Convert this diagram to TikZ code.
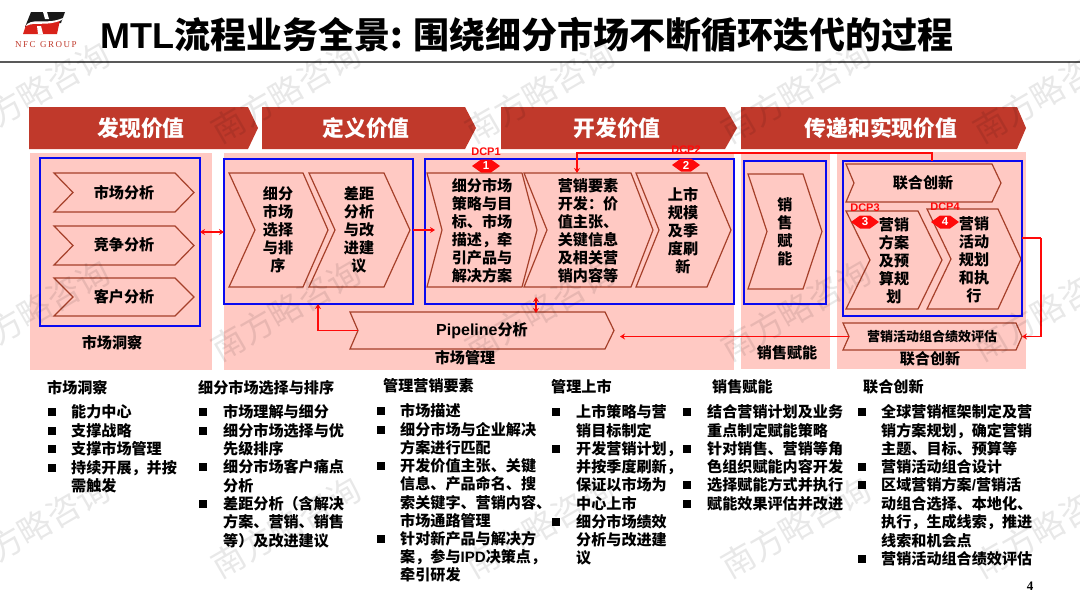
\documentclass[tikz,border=0pt]{standalone}
\usepackage{fontspec}
\setmainfont{Noto Sans CJK SC}
\newfontfamily\latfont{Liberation Sans}
\newfontfamily\serfont{Liberation Serif}
\usetikzlibrary{arrows.meta,calc}
\definecolor{hdr}{HTML}{C0392B}
\definecolor{pnk}{HTML}{FFC9C3}
\definecolor{brn}{HTML}{A5402A}
\definecolor{blu}{HTML}{0A0AF0}
\definecolor{rd}{HTML}{FF0A0A}
\tikzset{
  x=1pt,y=-1pt,
  chevline/.style={draw=brn,line width=1.2pt,fill=pnk,line join=miter},
  bluebox/.style={draw=blu,line width=1.8pt,inner sep=0,outer sep=0,rectangle},
  panel/.style={fill=pnk,draw=none},
  hdrshape/.style={fill=hdr,draw=none},
  flow/.style={draw=rd,line width=1.2pt,-{Stealth[length=5pt,width=6pt]}},
  flowboth/.style={draw=rd,line width=1.2pt,{Stealth[length=5pt,width=6pt]}-{Stealth[length=5pt,width=6pt]}},
  cht/.style={font=\fontsize{15.1}{18}\selectfont\bfseries,align=center,inner sep=0,text=black},
  cleft/.style={font=\fontsize{15.1}{18}\selectfont\bfseries,align=left,inner sep=0,text=black},
  hdt/.style={font=\fontsize{21.8}{24}\selectfont\bfseries,text=white,inner sep=0},
  dcp/.style={font=\latfont\fontsize{11}{12}\selectfont\bfseries,text=rd,inner sep=0},
  dnum/.style={font=\latfont\fontsize{11.5}{12}\selectfont\bfseries,text=white,inner sep=0},
  listhead/.style={font=\fontsize{15.1}{18}\selectfont\bfseries,anchor=west,inner sep=0,text=black},
  listtxt/.style={font=\fontsize{15.1}{18}\selectfont\bfseries,anchor=west,inner sep=0,text=black},
  sq/.style={fill=black,inner sep=0,minimum size=8pt,rectangle},
  wm/.style={font=\fontsize{33}{33}\selectfont,text=black,opacity=.09,rotate=30,inner sep=0},
}
\newcommand\chev[7]{% name,left,notch,shoulder,tip,top,bottom
  \path[chevline] (#2,#6) -- (#4,#6) -- (#5,{(#6+#7)/2}) -- (#4,#7) -- (#2,#7) -- (#3,{(#6+#7)/2}) -- cycle;
  \coordinate (#1-notch) at (#3,{(#6+#7)/2});
  \coordinate (#1-tip) at (#5,{(#6+#7)/2});
}
\newcommand\hdrc[6]{% name,left,shoulder,tip,top,bottom
  \path[hdrshape] (#2,#5) -- (#3,#5) -- (#4,{(#5+#6)/2}) -- (#3,#6) -- (#2,#6) -- cycle;
}
\newcommand\bbox[5]{% name,x1,y1,x2,y2
  \node[bluebox,minimum width={(#4-#2)*1pt},minimum height={(#5-#3)*1pt}] (#1) at ({(#2+#4)/2},{(#3+#5)/2}) {};
}
\newcommand\dmd[3]{% name,x,y
  \path[fill=rd] (#2-14,#3) -- (#2-5,#3-6.5) -- (#2+5,#3-6.5) -- (#2+14,#3) -- (#2+5,#3+6.5) -- (#2-5,#3+6.5) -- cycle;
}
\begin{document}
\begin{tikzpicture}
\useasboundingbox (0,0) rectangle (1080,608);
\fill[white] (0,0) rectangle (1080,608);

% logo
\fill[black!90] (31,12) -- (65,12) -- (61,23) -- (25,27) -- cycle;
\fill[hdr!60!red] (26,25) -- (60,20) -- (57,34) -- (23,34) -- cycle;
\path[fill=white] (27,24) .. controls (36,18) and (46,25) .. (63,18) -- (62,20) .. controls (46,27) and (36,21) .. (26,26) -- cycle;
\fill[white] (43,12) -- (47,12) -- (49,19) -- (45,19) -- cycle;
\fill[white] (38,34) -- (43,34) -- (41,26) -- (37,26) -- cycle;
\node[inner sep=0,text=hdr] (logotext) at (46,44.5) {\serfont\fontsize{9}{10}\selectfont N\,F\,C\ \ G\,R\,O\,U\,P};

% title
\node[inner sep=0,anchor=west] (title) at (100,35) {\fontsize{36}{38}\selectfont\bfseries{\latfont MTL}流程业务全景: 围绕细分市场不断循环迭代的过程};
\draw[black!65,line width=1.6pt] (0,62) -- (1080,62);

% header chevrons
\hdrc{h1}{29}{248}{258}{107}{149}
\hdrc{h2}{262}{465}{476}{107}{149}
\hdrc{h3}{501}{725}{737}{107}{149}
\hdrc{h4}{741}{1017}{1026}{107}{149}
\node[hdt] (th1) at (141,128) {发现价值};
\node[hdt] (th2) at (366,128) {定义价值};
\node[hdt] (th3) at (617,128) {开发价值};
\node[hdt] (th4) at (881,128) {传递和实现价值};

% panels
\fill[panel] (30,153) rectangle (212,370);
\fill[panel] (224,153) rectangle (734,370);
\fill[panel] (741,152) rectangle (830,369);
\fill[panel] (837,152) rectangle (1026,369);

% chevrons
\chev{m1}{54}{73}{175}{194}{173}{212}
\chev{m2}{54}{73}{175}{194}{226}{265}
\chev{m3}{54}{73}{175}{194}{278}{316}
\chev{s1}{229}{255}{303}{328}{173}{287}
\chev{s2}{309}{335}{384}{410}{173}{287}
\chev{c1}{427}{442}{522}{537}{173}{287}
\chev{c2}{524}{547}{631}{653}{173}{287}
\chev{c3}{636}{659}{707}{731}{173}{287}
\chev{d1}{748}{767}{803}{822}{174}{289}
\chev{e0}{846}{854}{992}{1001}{164}{202}
\chev{e1}{846}{870}{918}{942}{211}{309}
\chev{e2}{927}{951}{998}{1021}{209}{309}
\chev{pl}{350}{358}{605}{614}{312}{349}
\chev{ev}{843}{849}{1016}{1022}{323}{350}

% blue frames
\bbox{A}{40}{158}{200}{326}
\bbox{B}{224}{159}{413}{304}
\bbox{C}{425}{159}{734}{304}
\bbox{D}{744}{161}{826}{304}
\bbox{E}{843}{161}{1022}{316}

% connectors
\coordinate (yab) at (0,232);
\draw[flowboth] (A.east |- yab) -- (B.west |- yab);
\coordinate (ybc) at (0,230);
\coordinate (cin) at (435,230);
\draw[flow] (B.east |- ybc) -- (cin);
\coordinate (xpb) at (318,0);
\draw[flow] (pl-notch) -| (xpb |- B.south);
\coordinate (cp1) at (536,297);
\coordinate (cp2) at (536,313);
\draw[flowboth] (cp1) -- (cp2);
\coordinate (pltarget) at (620,330.5);
\draw[flow] (ev-notch) -- (pltarget |- ev-notch);
\coordinate (elbow) at (1041,238);
\draw[draw=rd,line width=1.2pt] (E.east |- elbow) -- (elbow);
\draw[flow] (elbow) |- (ev-tip);
\coordinate (topr) at (932,153);
\coordinate (c2in) at (577,173);
\draw[flow] (E.north -| topr) -- (topr) -| (c2in);

% DCP markers
\dmd{d1}{486}{166}
\dmd{d2}{686}{165}
\dmd{d3}{865}{222}
\dmd{d4}{945}{222}
\node[dnum] (n1) at (486,166) {1};
\node[dnum] (n2) at (686,165) {2};
\node[dnum] (n3) at (865,222) {3};
\node[dnum] (n4) at (945,222) {4};
\node[dcp] (l1) at (486,152) {DCP1};
\node[dcp] (l2) at (686,150) {DCP2};
\node[dcp] (l3) at (865,208) {DCP3};
\node[dcp] (l4) at (945,207) {DCP4};

% chevron text
\node[cht] (tm1) at (124,193) {市场分析};
\node[cht] (tm2) at (124,245) {竞争分析};
\node[cht] (tm3) at (124,297) {客户分析};
\node[cht] (ts1) at (278,230) {细分\\市场\\选择\\与排\\序};
\node[cht] (ts2) at (359,230) {差距\\分析\\与改\\进建\\议};
\node[cleft] (tc1) at (482,231) {细分市场\\策略与目\\标、市场\\描述，牵\\引产品与\\解决方案};
\node[cleft] (tc2) at (588,231) {营销要素\\开发：价\\值主张、\\关键信息\\及相关营\\销内容等};
\node[cht] (tc3) at (683,231) {上市\\规模\\及季\\度刷\\新};
\node[cht] (td1) at (785,232) {销\\售\\赋\\能};
\node[cht] (te0) at (923,183) {联合创新};
\node[cht] (te1) at (894,261) {营销\\方案\\及预\\算规\\划};
\node[cht] (te2) at (974,260) {营销\\活动\\规划\\和执\\行};
\node[cht] (tpl) at (482,331) {{\latfont\fontsize{16}{18}\selectfont Pipeline}分析};
\node[cht,font=\fontsize{13}{15}\selectfont\bfseries] (tev) at (932,337) {营销活动组合绩效评估};

% panel captions
\node[cht] (p1) at (112,343) {市场洞察};
\node[cht] (p2) at (465,358) {市场管理};
\node[cht] (p3) at (787,353) {销售赋能};
\node[cht] (p4) at (930,359) {联合创新};

% column 1
\node[listhead] (h-a) at (47,388) {市场洞察};
\foreach \yy/\tt in {412/能力中心,431/支撑战略,449/支撑市场管理,468/{持续开展，并按},486/需触发}
  \node[listtxt] (a\yy) at (71,\yy) {\tt};
\foreach \yy in {412,431,449,468} \node[sq] (ab\yy) at (52,\yy) {};
% column 2
\node[listhead] (h-b) at (198,388) {细分市场选择与排序};
\foreach \yy/\tt in {412/市场理解与细分,431/细分市场选择与优,449/先级排序,467/细分市场客户痛点,486/分析,504/{差距分析（含解决},522/{方案、营销、销售},541/{等）及改进建议}}
  \node[listtxt] (b\yy) at (223,\yy) {\tt};
\foreach \yy in {412,431,467,504} \node[sq] (bb\yy) at (203,\yy) {};
% column 3
\node[listhead] (h-c) at (383,386) {管理营销要素};
\foreach \yy/\tt in {411/市场描述,430/细分市场与企业解决,448/方案进行匹配,466/{开发价值主张、关键},484/{信息、产品命名、搜},503/{索关键字、营销内容、},521/市场通路管理,539/针对新产品与解决方,557/{案，参与{\latfont IPD}决策点，},575/牵引研发}
  \node[listtxt] (c\yy) at (400,\yy) {\tt};
\foreach \yy in {411,430,466,539} \node[sq] (cb\yy) at (381,\yy) {};
% column 4
\node[listhead] (h-d) at (551,387) {管理上市};
\foreach \yy/\tt in {412/上市策略与营,431/销目标制定,449/{开发营销计划，},467/{并按季度刷新，},485/保证以市场为,504/中心上市,522/细分市场绩效,540/分析与改进建,558/议}
  \node[listtxt] (d\yy) at (576,\yy) {\tt};
\foreach \yy in {412,449,522} \node[sq] (db\yy) at (556,\yy) {};
% column 5
\node[listhead] (h-e) at (712,387) {销售赋能};
\foreach \yy/\tt in {412/结合营销计划及业务,431/重点制定赋能策略,449/{针对销售、营销等角},467/色组织赋能内容开发,485/选择赋能方式并执行,504/赋能效果评估并改进}
  \node[listtxt] (e\yy) at (707,\yy) {\tt};
\foreach \yy in {412,449,485,504} \node[sq] (eb\yy) at (687,\yy) {};
% column 6
\node[listhead] (h-f) at (863,387) {联合创新};
\foreach \yy/\tt in {412/全球营销框架制定及营,431/{销方案规划，确定营销},449/{主题、目标、预算等},467/营销活动组合设计,485/{区域营销方案{\latfont /}营销活},504/{动组合选择、本地化、},522/{执行，生成线索，推进},541/线索和机会点,559/营销活动组合绩效评估}
  \node[listtxt] (f\yy) at (881,\yy) {\tt};
\foreach \yy in {412,467,485,559} \node[sq] (fb\yy) at (862,\yy) {};

\node[inner sep=0] (pageno) at (1030,586) {\serfont\fontsize{13}{14}\selectfont\bfseries 4};

% watermarks
\foreach \yy in {92,310,527}
  \foreach \xx in {35,286,540,796,1048}
    \node[wm] (w\xx-\yy) at (\xx,\yy) {南方略咨询};
\end{tikzpicture}
\end{document}
